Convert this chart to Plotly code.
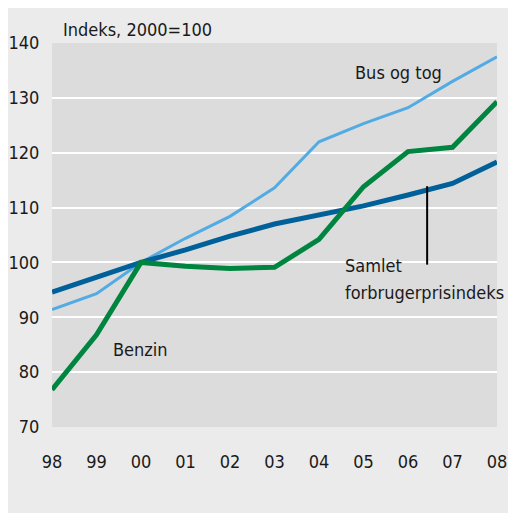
import plotly.graph_objects as go

years = [1998, 1999, 2000, 2001, 2002, 2003, 2004, 2005, 2006, 2007, 2008]
tick_labels = ["98", "99", "00", "01", "02", "03", "04", "05", "06", "07", "08"]
bus_og_tog = [91.4, 94.3, 100.0, 104.4, 108.4, 113.6, 122.0, 125.3, 128.2, 133.0, 137.5]
benzin = [76.8, 86.8, 100.0, 99.3, 98.9, 99.1, 104.2, 113.8, 120.2, 121.0, 129.3]
samlet = [94.6, 97.2, 100.0, 102.3, 104.8, 107.0, 108.6, 110.3, 112.3, 114.4, 118.3]
y_ticks = [70, 80, 90, 100, 110, 120, 130, 140]

FONT = "DejaVu Sans Condensed"
TXT = "#1a1a1a"
FS = 18

fig = go.Figure()
fig.add_trace(go.Scatter(x=years, y=bus_og_tog, mode="lines", name="Bus og tog",
                         line=dict(color="#52abe3", width=3), cliponaxis=False))
fig.add_trace(go.Scatter(x=years, y=samlet, mode="lines", name="Samlet forbrugerprisindeks",
                         line=dict(color="#00609a", width=5), cliponaxis=False))
fig.add_trace(go.Scatter(x=years, y=benzin, mode="lines", name="Benzin",
                         line=dict(color="#008540", width=5), cliponaxis=False))

fig.add_shape(type="line", xref="x", yref="y", x0=2006.43, x1=2006.43, y0=113.9, y1=99.6,
              line=dict(color="black", width=2))

ann = [
    dict(text="Indeks, 2000=100", xref="paper", yref="paper", x=0.02, y=1.034),
    dict(text="Bus og tog", xref="x", yref="y", x=2004.76, y=134.7),
    dict(text="Benzin", xref="x", yref="y", x=1999.33, y=84.2),
    dict(text="Samlet", xref="x", yref="y", x=2004.54, y=99.5),
    dict(text="forbrugerprisindeks", xref="x", yref="y", x=2004.54, y=94.6),
]
for a in ann:
    fig.add_annotation(showarrow=False, xanchor="left", yanchor="middle",
                       font=dict(family=FONT, size=FS, color=TXT), **a)

fig.update_layout(
    width=508, height=505,
    margin=dict(l=44, r=19, t=35, b=86, autoexpand=False),
    paper_bgcolor="#ebebeb", plot_bgcolor="#dcdcdc",
    showlegend=False,
    font=dict(family=FONT, size=FS, color=TXT),
)
fig.update_xaxes(range=[1998, 2008], tickvals=years, ticktext=tick_labels,
                 showgrid=False, zeroline=False, showline=False, automargin=False,
                 ticks="outside", ticklen=18, tickcolor="rgba(0,0,0,0)",
                 tickfont=dict(family=FONT, size=FS, color=TXT))
fig.update_yaxes(range=[70, 140], tickvals=y_ticks,
                 showgrid=True, gridcolor="white", gridwidth=2, zeroline=False, showline=False,
                 automargin=False,
                 ticks="outside", ticklen=8, tickcolor="rgba(0,0,0,0)",
                 tickfont=dict(family=FONT, size=FS, color=TXT))

fig.write_html("out.html")
